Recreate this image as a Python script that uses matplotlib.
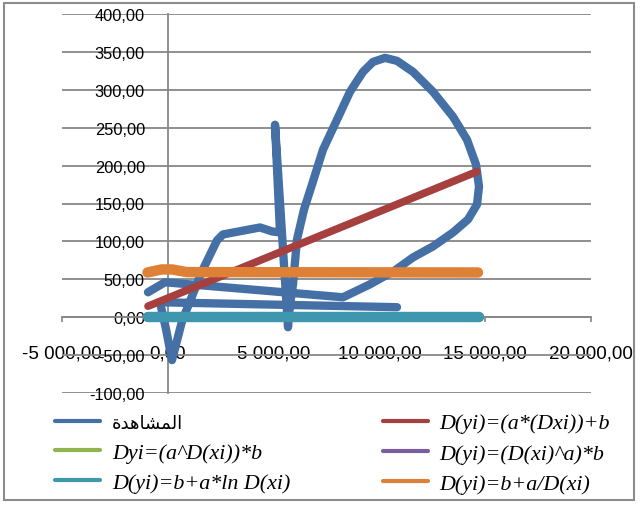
import matplotlib
matplotlib.use('Agg')
import matplotlib.pyplot as plt
from matplotlib.lines import Line2D
from matplotlib.patches import Rectangle
from matplotlib.ticker import FuncFormatter, MultipleLocator
from matplotlib.font_manager import FontProperties

obs_x = [-936, -132, 8280, 9556, 10737, 11588, 12533, 13479, 14187, 14613,
         14707, 14566, 14140, 13479, 12533, 11588, 10832, 10265, 9698, 9225,
         8611, 7996, 7335, 6815, 6437, 6106, 5917, 5775, 5681, 5066,
         5303, 4925, 4357, 2609, 2325, 1616, 671, 198, -85, -369, 10832]
obs_y = [32.9, 46.1, 26.3, 43.4, 61.8, 78.9, 93.4, 111.8, 128.9, 148.7,
         172.4, 201.3, 234.2, 264.5, 297.4, 323.7, 338.2, 342.1, 336.8, 323.7,
         297.4, 260.5, 221.1, 175.0, 142.1, 102.6, 43.4, 17.1, -13.2, 253.9,
         111.8, 113.2, 118.4, 109.2, 101.3, 60.5, -5.3, -56.6, -15.8, 19.7, 13.2]

# fitted models
lin_x = [-936, 14613]
lin_y = [14.5, 192.1]
exp_x = [-936, 14700]
exp_y = [0.2, 0.2]
pow_x = [-936, 14700]
pow_y = [0.2, 0.2]
log_x = [-936, 14700]
log_y = [0.3, 0.3]
inv_x = [-960, -300, 200, 900, 14660]
inv_y = [59.0, 63.0, 63.0, 59.5, 59.0]

obs_label = 'المشاهدة'
labels = [obs_label, 'D(yi)=(a*(Dxi))+b', 'Dyi=(a^D(xi))*b',
          'D(yi)=(D(xi)^a)*b', 'D(yi)=b+a*ln D(xi)', 'D(yi)=b+a/D(xi)']
colors = ['#4470A6', '#A5403E', '#92B450', '#7B5E9E', '#3E97AE', '#DE8036']

# isolated, final, initial, medial
AR_FORMS = {
    'ا': ('\uFE8D', '\uFE8E', None, None),
    'ل': ('\uFEDD', '\uFEDE', '\uFEDF', '\uFEE0'),
    'م': ('\uFEE1', '\uFEE2', '\uFEE3', '\uFEE4'),
    'ش': ('\uFEB5', '\uFEB6', '\uFEB7', '\uFEB8'),
    'ه': ('\uFEE9', '\uFEEA', '\uFEEB', '\uFEEC'),
    'د': ('\uFEA9', '\uFEAA', None, None),
    'ة': ('\uFE93', '\uFE94', None, None),
}


def shape_arabic(s):
    # matplotlib has no shaping / bidi, so build the visual form by hand
    out = []
    for i, c in enumerate(s):
        f = AR_FORMS[c]
        prev_joins = i > 0 and AR_FORMS[s[i - 1]][2] is not None
        next_joins = i < len(s) - 1 and f[2] is not None
        if prev_joins and next_joins:
            out.append(f[3])
        elif prev_joins:
            out.append(f[1])
        elif next_joins:
            out.append(f[2])
        else:
            out.append(f[0])
    return ''.join(reversed(out))


def fmt(v, pos):
    return '{:,.2f}'.format(v).replace(',', ' ').replace('.', ',')


def main():
    grey = '#878787'
    fig = plt.figure(figsize=(6.4, 5.06), dpi=100)
    ax = fig.add_axes([62 / 640, 1 - 394 / 506, 529 / 640, 379 / 506])

    kw = dict(solid_capstyle='round', solid_joinstyle='round', zorder=3)
    ax.plot(obs_x, obs_y, color=colors[0], lw=6, **kw)
    ax.plot(lin_x, lin_y, color=colors[1], lw=5.5, **kw)
    ax.plot(exp_x, exp_y, color=colors[2], lw=7, **kw)
    ax.plot(pow_x, pow_y, color=colors[3], lw=7, **kw)
    ax.plot(log_x, log_y, color=colors[4], lw=7.5, **kw)
    ax.plot(inv_x, inv_y, color=colors[5], lw=7.5, **kw)

    ax.set_xlim([-5000, 20000])
    ax.set_ylim([-100, 400])
    ax.xaxis.set_major_locator(MultipleLocator(5000))
    ax.yaxis.set_major_locator(MultipleLocator(50))
    ax.xaxis.set_major_formatter(FuncFormatter(fmt))
    ax.yaxis.set_major_formatter(FuncFormatter(fmt))

    ax.yaxis.grid(True, color=grey, lw=1.3)
    ax.set_axisbelow(True)
    ax.spines['top'].set_visible(False)
    ax.spines['right'].set_visible(False)
    ax.spines['left'].set_position(('data', 0))
    ax.spines['bottom'].set_position(('data', 0))
    for s in ['left', 'bottom']:
        ax.spines[s].set_color(grey)
        ax.spines[s].set_linewidth(1.3)

    ax.tick_params(axis='x', direction='out', length=3.6, width=1.2, color=grey, pad=16)
    ax.tick_params(axis='y', length=0, pad=16.5)
    for lab in ax.get_xticklabels():
        lab.set_fontfamily('Liberation Sans')
        lab.set_fontsize(13.5)
    for lab in ax.get_yticklabels():
        lab.set_fontfamily('Liberation Sans')
        lab.set_fontsize(11.8)

    # legend, row order as in the chart (matplotlib fills columns first)
    handles = [Line2D([], [], color=c, lw=3, solid_capstyle='round') for c in colors]
    shown = [shape_arabic(obs_label)] + labels[1:]
    order = [0, 2, 4, 1, 3, 5]
    prop = FontProperties(family=['Liberation Serif', 'DejaVu Sans'], style='italic', size=15.8)
    leg = fig.legend([handles[i] for i in order], [shown[i] for i in order], ncol=2,
                     loc='upper left', bbox_to_anchor=(55 / 640, 1 - 414 / 506),
                     frameon=False, prop=prop, handlelength=2.05, handletextpad=0.55,
                     columnspacing=4.2, labelspacing=0.45, borderpad=0, borderaxespad=0)
    leg.get_texts()[0].set_fontproperties(FontProperties(family='DejaVu Sans', size=13))

    fig.patches.append(Rectangle((4 / 640, 5 / 506), 630 / 640, 497 / 506,
                                 transform=fig.transFigure, fill=False,
                                 ec='#8c8c8c', lw=1.5))

    fig.savefig('out.png', dpi=100)


if __name__ == '__main__':
    main()
